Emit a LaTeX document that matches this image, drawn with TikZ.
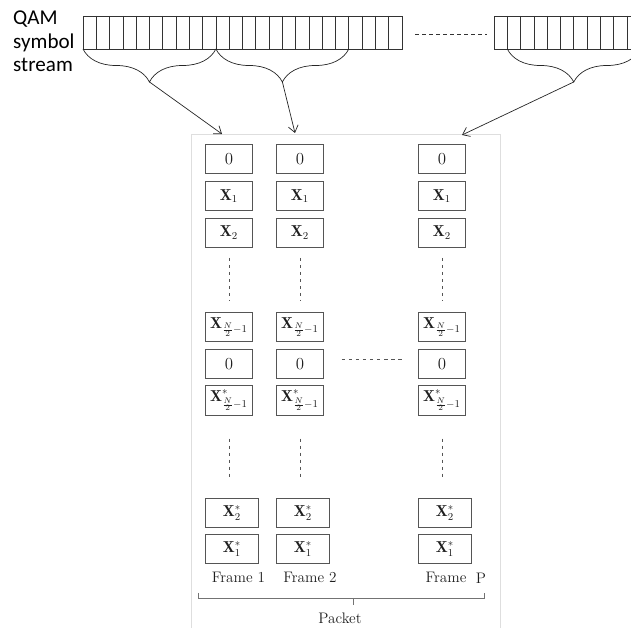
\documentclass[tikz,border=0pt]{standalone}
\usepackage{amsmath,amssymb}
\usepackage{fontspec}
\newfontfamily\calibrifont{Carlito}
\usetikzlibrary{positioning, arrows.meta, calc, decorations.pathreplacing}
\definecolor{boxgray}{RGB}{85, 85, 85}
\definecolor{framegray}{RGB}{222, 222, 222}
\definecolor{inkgray}{RGB}{30, 30, 30}
\tikzset{
  cell/.style={
    draw=boxgray,
    line width=0.7pt,
    minimum width=1.41cm,
    minimum height=0.88cm,
    inner sep=1pt,
    text=inkgray,
    font=\fontsize{13.5}{16}\selectfont
  },
  widecell/.style={
    cell,
    minimum width=1.59cm
  },
  skipline/.style={
    draw=boxgray,
    line width=0.5pt,
    dash pattern=on 3pt off 3pt
  },
  strip/.style={
    draw=black!80,
    line width=0.6pt
  },
  symbrace/.style={
    decorate,
    decoration={brace, mirror, amplitude=0.99cm},
    draw=black!85,
    line width=0.6pt
  },
  feed/.style={
    -{Straight Barb[length=2mm, width=3mm]},
    draw=black!85,
    line width=0.6pt
  },
  lbl/.style={
    text=inkgray,
    font=\fontsize{13}{15}\selectfont,
    inner sep=1pt
  }
}

\begin{document}
\begin{tikzpicture}[x=0.03cm, y=0.03cm, node distance=0.2cm]
  \useasboundingbox (0,0) rectangle (631,-628);

  % symbol stream
  \node[anchor=north west, inner sep=0pt, align=left,
        font=\calibrifont\fontsize{18}{20}\selectfont] (qam) at (13,-11)
        {QAM\\symbol\\stream};
  \draw[strip] (83,-16) rectangle (402,-49);
  \foreach \k in {1,...,23}
    \draw[strip] ({83+\k*13.29},-16) -- ++(0,-33);
  \draw[strip] (640,-16) -- (494,-16) -- (494,-49) -- (640,-49);
  \foreach \k in {1,...,11}
    \draw[strip] ({494+\k*13.29},-16) -- ++(0,-33);
  \draw[skipline, draw=black!80] (415,-34) -- (487,-34);

  % braces
  \draw[symbrace] (83,-49) -- (215.9,-49);
  \draw[symbrace] (215.9,-49) -- (348.8,-49);
  \draw[symbrace] (507.3,-49) -- (640.2,-49);
  \coordinate (tip1) at (149.5,-82);
  \coordinate (tip2) at (282.4,-82);
  \coordinate (tip3) at (573.7,-82);

  % packet frame
  \draw[draw=framegray, line width=0.6pt] (191,-134) rectangle (500,-660);
  \coordinate (in1) at (222,-134);
  \coordinate (in2) at (295,-133);
  \coordinate (in3) at (462,-135);
  \draw[feed] (tip1) -- (in1);
  \draw[feed] (tip2) -- (in2);
  \draw[feed] (tip3) -- (in3);

  % frames
  \foreach \c/\x in {1/205, 2/276, 3/418} {
    \node[cell, anchor=north west] (zero\c) at (\x,-144) {$0$};
    \node[cell, below=of zero\c] (one\c) {$\mathbf{X}_1$};
    \node[cell, below=of one\c] (two\c) {$\mathbf{X}_2$};
    \node[cell, below=1.92cm of two\c] (half\c) {$\mathbf{X}_{\frac{N}{2}-1}$};
    \node[cell, below=of half\c] (nyq\c) {$0$};
    \node[cell, below=of nyq\c] (halfc\c) {$\mathbf{X}^*_{\frac{N}{2}-1}$};
    \node[widecell, below=2.47cm of halfc\c.south west, anchor=north west] (twoc\c) {$\mathbf{X}^*_2$};
    \node[widecell, below=0.18cm of twoc\c] (onec\c) {$\mathbf{X}^*_1$};
    \draw[skipline] ($(two\c.south)+(0,-10)$) -- ($(half\c.north)+(0,11)$);
    \draw[skipline] ($(halfc\c.south)+(0,-23)$) -- ($(twoc\c.north -| halfc\c.south)+(0,18)$);
  }
  \draw[skipline] ($(nyq2.east)+(18,4)$) -- ($(nyq3.west)+(-16,4)$);

  % labels
  \node[lbl] (name1) at (238.5,-577) {Frame 1};
  \node[lbl] (name2) at (310,-577) {Frame 2};
  \node[lbl] (name3) at (446,-577) {Frame};
  \node[lbl, anchor=base] (idx3) at (481,-584) {P};
  \coordinate (pl) at (198,-598);
  \coordinate (pr) at (484,-598);
  \coordinate (pm) at (353,-598);
  \draw[draw=black!55, line width=0.7pt] ($(pl)+(0,5)$) -- (pl) -- (pr) -- ($(pr)+(0,5)$);
  \draw[draw=black!55, line width=0.7pt] (pm) -- ++(0,-7);
  \node[lbl] (packet) at (340,-618) {Packet};
\end{tikzpicture}
\end{document}
